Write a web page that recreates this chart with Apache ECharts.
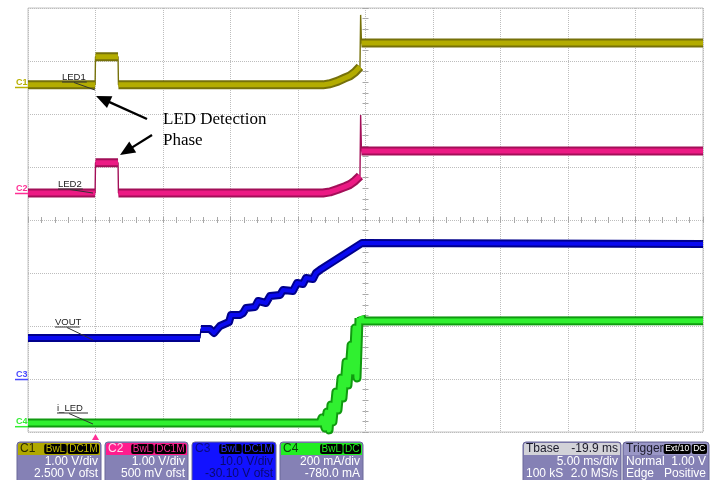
<!DOCTYPE html>
<html><head><meta charset="utf-8">
<script src="https://cdn.jsdelivr.net/npm/echarts@6/dist/echarts.min.js"></script>
<style>html,body{margin:0;padding:0;background:#fff}#c{width:715px;height:480px}</style>
</head><body><div id="c"></div>
<script>
// ---- scope settings ----
const timeMin = -5, timeMax = 45, timePerDiv = 5;       // ms
const channels = ['C1', 'C2', 'C3', 'C4'];
const unitsPerDiv = [1, 1, 10, 200];                      // V, V, V, mA
const offsets = [2.5, 0.5, -30.1, -780];                  // ofst
const traceNames = ['LED1', 'LED2', 'VOUT', 'i_LED'];

// ---- traces: [time ms, value] ----
const c1 = [[-5,0.05],[-0.03,0.05],[0,0.58],[1.67,0.58],[1.70,0.05],[16.85,0.05],[17.37,0.07],[17.96,0.12],[18.48,0.18],[18.85,0.22],[19.22,0.29],[19.59,0.39],[19.64,1.37],[19.70,0.84],[45,0.84]];
const c2 = [[-5,0.01],[-0.03,0.01],[0,0.58],[1.67,0.58],[1.70,0.01],[16.85,0.01],[17.37,0.03],[17.96,0.08],[18.48,0.13],[18.85,0.17],[19.22,0.24],[19.59,0.33],[19.64,1.48],[19.70,0.80],[45,0.80]];
const c3 = [[-5,7.84],[7.74,7.84],[7.81,9.53],[8.48,9.53],[8.78,8.78],[9.22,10.1],[9.89,10.85],[10.04,12.18],[10.70,12.18],[10.93,12.55],[11.15,13.5],[11.81,13.68],[12.04,14.82],[12.63,14.44],[12.93,15.76],[13.67,15.95],[13.89,16.89],[14.63,16.7],[14.93,18.21],[15.37,18.02],[15.59,19.16],[16.11,18.97],[16.33,20.1],[16.63,20.67],[19.74,25.76],[19.85,25.57],[45,25.57]];
const c4 = [[-5,14],[16.63,14],[16.78,33],[17.0,-5],[17.15,55],[17.30,-12],[17.44,82],[17.59,18],[17.81,131],[17.96,63],[18.19,184],[18.33,108],[18.56,244],[18.70,157],[18.93,308],[19.07,206],[19.22,372],[19.37,184],[19.52,410],[19.59,176],[19.67,418],[19.78,399],[45,400]];
const traces = [c1, c2, c3, c4];

const traceDark = ['#76710a', '#a30f58', '#00008c', '#109a10'];
const traceBright = ['#b3ac00', '#ec1a84', '#0a0af0', '#30f030'];
const traceWidth = [9, 9, 8, 9];
const markerColor = ['#b8b000', '#ff2f95', '#4848ff', '#33ee33'];

const chart = echarts.init(document.getElementById('c'), null, {renderer: 'canvas'});

function breakVertical(d, gap) {
  const out = [];
  for (let i = 0; i < d.length; i++) {
    out.push(d[i]);
    if (i < d.length - 1 && d[i + 1][0] - d[i][0] < gap) out.push([(d[i][0] + d[i + 1][0]) / 2, null]);
  }
  return out;
}

const gridLine = {show: true, lineStyle: {color: '#bdbdbd', type: 'dotted', width: 1}};
const tickAxisX = pos => ({type: 'value', position: pos, offset: -212, min: timeMin, max: timeMax, interval: timePerDiv, axisLabel: {show: false}, axisLine: {show: false}, splitLine: {show: false},
    axisTick: {show: true, inside: true, length: 3, lineStyle: {color: '#a8a8a8'}}, minorTick: {show: true, splitNumber: 5, length: 3, lineStyle: {color: '#a8a8a8'}}});
const tickAxisY = pos => ({type: 'value', position: pos, offset: -337.5, min: 0, max: 8, interval: 1, axisLabel: {show: false}, axisLine: {show: false}, splitLine: {show: false},
    axisTick: {show: true, inside: true, length: 3, lineStyle: {color: '#a8a8a8'}}, minorTick: {show: true, splitNumber: 5, length: 3, lineStyle: {color: '#a8a8a8'}}});
const xAxes = [
  {type: 'value', min: timeMin, max: timeMax, interval: timePerDiv, axisLabel: {show: false}, axisTick: {show: false}, axisLine: {show: false}, splitLine: gridLine},
  tickAxisX('top'), tickAxisX('bottom')
];
const yAxes = [
  {type: 'value', min: 0, max: 8, interval: 1, axisLabel: {show: false}, axisTick: {show: false}, axisLine: {show: false}, splitLine: gridLine},
  tickAxisY('left'), tickAxisY('right')
];
channels.forEach((c, i) => {
  const center = -offsets[i];
  yAxes.push({type: 'value', show: false, min: center - 4 * unitsPerDiv[i], max: center + 4 * unitsPerDiv[i], splitLine: {show: false}});
});

const series = [];
traces.forEach((d, i) => {
  const common = {type: 'line', xAxisIndex: 0, yAxisIndex: 3 + i, showSymbol: false, symbol: 'none', silent: true, connectNulls: false, animation: false};
  series.push(Object.assign({}, common, {name: channels[i] + ' edge', data: d, lineStyle: {color: traceDark[i], width: 1.4}}));
  const thick = breakVertical(d, 0.09);
  series.push(Object.assign({}, common, {name: channels[i] + ' band', data: thick, lineStyle: {color: traceDark[i], width: traceWidth[i], join: 'round', cap: 'butt'}}));
  series.push(Object.assign({}, common, {name: channels[i] + ' core', data: thick, lineStyle: {color: traceBright[i], width: traceWidth[i] - 4, join: 'round', cap: 'butt'}}));
});

chart.setOption({
  backgroundColor: '#ffffff',
  animation: false,
  grid: {left: 28, right: 12, top: 8, bottom: 48, show: true, borderColor: '#c4c4c4', borderWidth: 1, backgroundColor: 'transparent'},
  xAxis: xAxes,
  yAxis: yAxes,
  series: series
});

// ---------- annotations ----------
const F = "'Liberation Sans Narrow','Liberation Sans',Arial,sans-serif";
const FS = "'Liberation Sans',Arial,sans-serif";
const g = [];
function txt(x, y, s, o) {
  o = o || {};
  return {type: 'text', x: x, y: y, z: 100, style: {text: s, fill: o.fill || '#000', fontSize: o.size || 11, fontFamily: o.family || F, fontWeight: o.weight || 'normal',
    textAlign: o.align || 'left', align: o.align || 'left', textVerticalAlign: o.va || 'middle', verticalAlign: o.va || 'middle'}};
}
function seg(x1, y1, x2, y2, color, w) {
  return {type: 'line', z: 100, shape: {x1: x1, y1: y1, x2: x2, y2: y2}, style: {stroke: color, lineWidth: w}};
}

// channel zero markers on the left edge
channels.forEach((c, i) => {
  const y0 = chart.convertToPixel({yAxisIndex: 3 + i}, 0);
  g.push(txt(16, y0 - 5, c, {fill: markerColor[i], size: 9, weight: 'bold', family: FS}));
  g.push(seg(15, y0, 28, y0, markerColor[i], 1.5));
});

// trace labels with underline and leader
const labelDefs = [
  {x: 62, y: 77, lead: [95, 90]},
  {x: 58, y: 184, lead: [93, 193]},
  {x: 55, y: 322, lead: [93, 340]},
  {x: 57, y: 408, lead: [93, 424]}
];
traceNames.forEach((t, i) => {
  const L = labelDefs[i];
  g.push(txt(L.x, L.y, t, {fill: '#222', size: 9.5, family: FS}));
  const w = t.length * 6.2;
  g.push(seg(L.x, L.y + 5, L.x + w, L.y + 5, '#333', 1));
  g.push(seg(L.x + 12, L.y + 5.5, L.lead[0], L.lead[1], '#333', 1));
});

// "LED Detection Phase" and arrows
g.push(txt(163, 120, 'LED Detection', {size: 17, family: "'Liberation Serif','Times New Roman',serif", fill: '#000'}));
g.push(txt(163, 141, 'Phase', {size: 17, family: "'Liberation Serif','Times New Roman',serif", fill: '#000'}));
function arrow(tail, tip) {
  const dx = tip[0] - tail[0], dy = tip[1] - tail[1], len = Math.hypot(dx, dy);
  const ux = dx / len, uy = dy / len, Lh = 15, H = 6.5;
  const bx = tip[0] - ux * Lh, by = tip[1] - uy * Lh;
  g.push(seg(tail[0], tail[1], bx + ux * 2, by + uy * 2, '#000', 2.3));
  g.push({type: 'polygon', z: 100, shape: {points: [tip, [bx - uy * H, by + ux * H], [bx + uy * H, by - ux * H]]}, style: {fill: '#000'}});
}
arrow([147, 119], [96, 96]);
arrow([152, 135], [120, 155]);

// trigger position marker
const tx = chart.convertToPixel({xAxisIndex: 0}, 0);
g.push({type: 'polygon', z: 100, shape: {points: [[tx, 434], [tx - 3.5, 440], [tx + 3.5, 440]]}, style: {fill: '#ff2f95'}});

// info boxes
const ctx = document.createElement('canvas').getContext('2d');
function measure(t, font) { ctx.font = font; return ctx.measureText(t).width; }
const boxes = [
  {x: 17, w: 84, hdr: '#b0a800', title: 'C1', titleColor: '#2e2c00', tags: ['BwL', 'DC1M'], tagColor: '#c4bc00', body: '#8581b5', bodyColor: '#ffffff', rows: [['', '1.00 V/div'], ['', '2.500 V ofst']]},
  {x: 105, w: 83, hdr: '#ff1c8e', title: 'C2', titleColor: '#ffd8ec', tags: ['BwL', 'DC1M'], tagColor: '#ff2a96', body: '#8581b5', bodyColor: '#ffffff', rows: [['', '1.00 V/div'], ['', '500 mV ofst']]},
  {x: 192, w: 84, hdr: '#1212ff', title: 'C3', titleColor: '#0a0a80', tags: ['BwL', 'DC1M'], tagColor: '#2a2aff', body: '#1212ff', bodyColor: '#0a0a70', rows: [['', '10.0 V/div'], ['', '-30.10 V ofst']]},
  {x: 280, w: 83, hdr: '#22ee22', title: 'C4', titleColor: '#0c400c', tags: ['BwL', 'DC'], tagColor: '#22ee22', body: '#8581b5', bodyColor: '#ffffff', rows: [['', '200 mA/div'], ['', '-780.0 mA']]},
  {x: 523, w: 98, hdr: '#d2d2d8', title: 'Tbase', titleColor: '#1a1a2a', titleRight: '-19.9 ms', tags: [], tagColor: '#fff', body: '#8581b5', bodyColor: '#ffffff', rows: [['', '5.00 ms/div'], ['100 kS', '2.0 MS/s']]},
  {x: 623, w: 86, hdr: '#9a97c6', title: 'Trigger', titleColor: '#1a1a2a', tags: ['Ext/10', 'DC'], tagColor: '#ffffff', tagSize: 8.5, body: '#8581b5', bodyColor: '#ffffff', rows: [['Normal', '1.00 V'], ['Edge', 'Positive']]}
];
boxes.forEach(b => {
  const top = 442, hh = 13;
  const ts = b.tagSize || 10;
  g.push({type: 'rect', z: 90, shape: {x: b.x, y: top, width: b.w, height: 50, r: 3}, style: {fill: b.body, stroke: '#6b6899', lineWidth: 1}});
  g.push({type: 'rect', z: 91, shape: {x: b.x + 1, y: top + 1, width: b.w - 2, height: hh - 1, r: [2, 2, 0, 0]}, style: {fill: b.hdr}});
  g.push(txt(b.x + 3, top + hh / 2 + 0.5, b.title, {fill: b.titleColor, size: 12}));
  let rx = b.x + b.w - 2;
  for (let k = b.tags.length - 1; k >= 0; k--) {
    const t = b.tags[k];
    const tw = measure(t, ts + 'px ' + F) + 3;
    rx -= tw;
    g.push({type: 'rect', z: 95, shape: {x: rx, y: top + 2, width: tw, height: hh - 3, r: 2}, style: {fill: '#000'}});
    g.push(txt(rx + tw / 2, top + hh / 2 + 0.5, t, {fill: b.tagColor, size: ts, align: 'center'}));
    rx -= 1;
  }
  if (b.titleRight) g.push(txt(b.x + b.w - 3, top + hh / 2 + 0.5, b.titleRight, {fill: b.titleColor, size: 12, align: 'right'}));
  b.rows.forEach((r, k) => {
    const y = 462 + k * 12;
    if (r[0]) g.push(txt(b.x + 3, y, r[0], {fill: b.bodyColor, size: 12}));
    if (r[1]) g.push(txt(b.x + b.w - 3, y, r[1], {fill: b.bodyColor, size: 12, align: 'right'}));
  });
});

chart.setOption({graphic: g});
</script>
</body></html>
